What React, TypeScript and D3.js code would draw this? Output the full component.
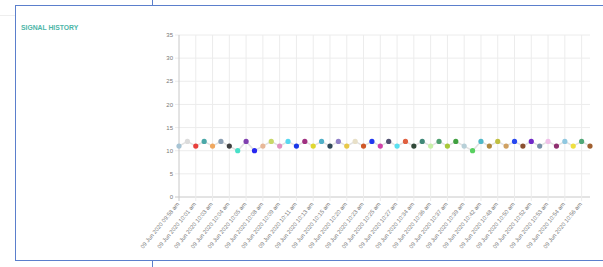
import React from 'react'
import { scaleLinear, line, range } from 'd3'

// signal strength readings, one per timestamp
const signalValues = [
  11, 12, 11, 12, 11, 12, 11, 10, 12, 10, 11, 12, 11, 12, 11,
  12, 11, 12, 11, 12, 11, 12, 11, 12, 11, 12, 11, 12, 11, 12, 11,
  12, 11, 12, 11, 10, 12, 11, 12, 11, 12, 11, 12, 11, 12, 11, 12, 11, 12, 11,
]

// each point gets its own random-ish colour in the original
const pointColors = [
  '#a7c4d4', '#dcdcdc', '#e8403c', '#4aa8a8', '#f0a860', '#8ca0b4', '#404040', '#48e0c8', '#8040b0', '#2828f0',
  '#e8b898', '#c8d868', '#e090c0', '#58d8f0', '#1838e8', '#a03080', '#e0d830', '#50b0c8', '#304858', '#9080c8',
  '#e8c848', '#e8e0c8', '#d05828', '#2038f0', '#d040a8', '#505070', '#58e0f0', '#e06040', '#304838', '#408878',
  '#c8f0a8', '#50a070', '#a8c838', '#40a040', '#b8d0d8', '#58d060', '#50b8c8', '#b08840', '#c0c040', '#d0a060',
  '#2848f0', '#8a5030', '#7028c8', '#7890a8', '#f0c0e8', '#903070', '#90c8e0', '#f0e040', '#50a878', '#a06030',
]

// only every second label is shown (autoskip)
const tickLabels = [
  '09 Jun 2020 09:58 am', '09 Jun 2020 10:01 am', '09 Jun 2020 10:03 am', '09 Jun 2020 10:04 am',
  '09 Jun 2020 10:05 am', '09 Jun 2020 10:08 am', '09 Jun 2020 10:09 am', '09 Jun 2020 10:11 am',
  '09 Jun 2020 10:13 am', '09 Jun 2020 10:15 am', '09 Jun 2020 10:20 am', '09 Jun 2020 10:23 am',
  '09 Jun 2020 10:25 am', '09 Jun 2020 10:27 am', '09 Jun 2020 10:34 am', '09 Jun 2020 10:36 am',
  '09 Jun 2020 10:37 am', '09 Jun 2020 10:39 am', '09 Jun 2020 10:42 am', '09 Jun 2020 10:48 am',
  '09 Jun 2020 10:50 am', '09 Jun 2020 10:52 am', '09 Jun 2020 10:53 am', '09 Jun 2020 10:54 am',
  '09 Jun 2020 10:56 am',
]

const yTicks = [0, 5, 10, 15, 20, 25, 30, 35]

const left = 179, right = 590, top = 35, bottom = 197
const font = '"Liberation Sans", Arial, sans-serif'

const App = () => {
  const x = scaleLinear().domain([0, signalValues.length - 1]).range([left, right])
  const y = scaleLinear().domain([0, 35]).range([bottom, top])

  const path = line<number>()
    .x((d, i) => x(i))
    .y(d => y(d))(signalValues)

  const tickIdx = range(0, signalValues.length, 2)

  return (
    <svg width={603} height={267} style={{ position: 'absolute', left: 0, top: 0, background: '#fff' }}>
      {/* card frame */}
      <line x1={0} x2={15} y1={15.5} y2={15.5} stroke="#eeeeee" />
      <line x1={152.5} x2={152.5} y1={0} y2={267} stroke="#5b7fcc" />
      <rect x={15.5} y={5.5} width={620} height={255} fill="#fff" stroke="#5b7fcc" />
      <text x={21} y={29.5} fontFamily={font} fontSize={6.8} fontWeight="bold" fill="#4db6a8">
        SIGNAL HISTORY
      </text>

      {/* horizontal grid + y labels */}
      {yTicks.map(t => (
        <g key={t}>
          <line x1={left - 4} x2={right} y1={y(t)} y2={y(t)}
            stroke={t === 0 ? '#c8c8c8' : '#ececec'} strokeWidth={1} />
          <text x={left - 6} y={y(t)} dy="0.35em" textAnchor="end"
            fontFamily={font} fontSize={6} fill="#777">{t}</text>
        </g>
      ))}

      {/* vertical grid + x labels */}
      {tickIdx.map((idx, k) => (
        <g key={idx}>
          <line x1={x(idx)} x2={x(idx)} y1={top} y2={bottom + 4}
            stroke={idx === 0 ? '#c8c8c8' : '#ececec'} strokeWidth={1} />
          <text transform={`translate(${x(idx) - 1},${bottom + 6}) rotate(-51)`}
            textAnchor="end" dy="0.35em" fontFamily={font} fontSize={5.8} fill="#777">
            {tickLabels[k]}
          </text>
        </g>
      ))}

      <path d={path || ''} fill="none" stroke="#e2e2e2" strokeWidth={1.5} />
      {signalValues.map((v, i) => (
        <circle key={i} cx={x(i)} cy={y(v)} r={2.6} fill={pointColors[i]} />
      ))}
    </svg>
  )
}

export default App
